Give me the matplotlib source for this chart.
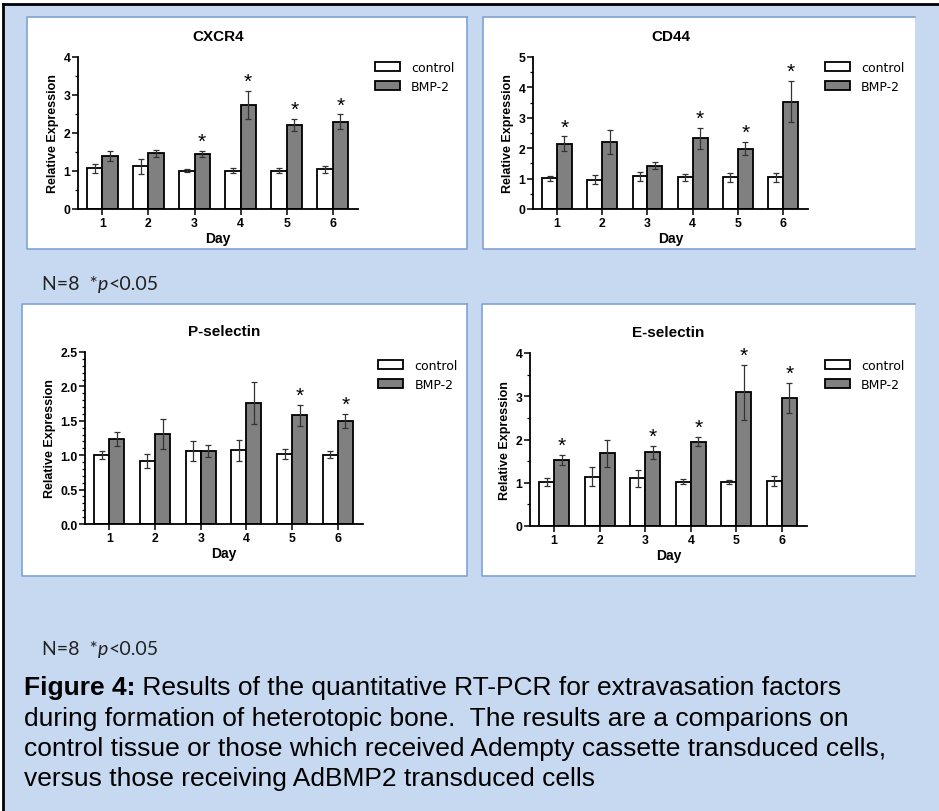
import matplotlib
matplotlib.use("Agg")
import matplotlib.pyplot as plt
import numpy as np
from matplotlib.patches import Rectangle
from matplotlib.lines import Line2D
from matplotlib.ticker import MultipleLocator

# data
days = [1, 2, 3, 4, 5, 6]
series_names = ["control", "BMP-2"]

cxcr4_ctrl = [1.07, 1.12, 1.01, 1.01, 1.01, 1.04]
cxcr4_ctrl_err = [0.11, 0.19, 0.03, 0.06, 0.06, 0.08]
cxcr4_bmp = [1.39, 1.47, 1.44, 2.74, 2.22, 2.30]
cxcr4_bmp_err = [0.13, 0.09, 0.08, 0.37, 0.16, 0.19]
cxcr4_sig = [3, 4, 5, 6]

cd44_ctrl = [1.01, 0.97, 1.07, 1.04, 1.05, 1.05]
cd44_ctrl_err = [0.08, 0.16, 0.16, 0.11, 0.15, 0.15]
cd44_bmp = [2.15, 2.21, 1.43, 2.32, 1.99, 3.53]
cd44_bmp_err = [0.24, 0.40, 0.12, 0.35, 0.21, 0.68]
cd44_sig = [1, 4, 5, 6]

psel_ctrl = [1.00, 0.92, 1.06, 1.07, 1.02, 1.01]
psel_ctrl_err = [0.06, 0.10, 0.14, 0.15, 0.07, 0.05]
psel_bmp = [1.23, 1.31, 1.06, 1.76, 1.58, 1.50]
psel_bmp_err = [0.10, 0.22, 0.09, 0.30, 0.15, 0.10]
psel_sig = [5, 6]

esel_ctrl = [1.02, 1.14, 1.10, 1.02, 1.02, 1.04]
esel_ctrl_err = [0.10, 0.22, 0.20, 0.06, 0.05, 0.12]
esel_bmp = [1.53, 1.68, 1.70, 1.95, 3.09, 2.96]
esel_bmp_err = [0.12, 0.32, 0.15, 0.11, 0.64, 0.35]
esel_sig = [1, 3, 4, 5, 6]

W, H = 939, 812
BG = "#c6d9f0"
EDGE = "#7ea3d3"
BAR_GREY = "#808080"
FONT = "Liberation Sans"


def fx(px):
    return px / W


def fy(py):
    return 1 - py / H


fig = plt.figure(figsize=(W / 100, H / 100), dpi=100)
fig.patch.set_facecolor("white")

# light blue page with black frame on left/top
fig.patches.append(Rectangle((fx(3), 0), 1 - fx(3), fy(5), transform=fig.transFigure,
                             facecolor=BG, edgecolor="none", zorder=-10))
fig.lines.append(Line2D([fx(3), fx(3)], [0, fy(5)], transform=fig.transFigure, color="black", lw=2))
fig.lines.append(Line2D([fx(3), 1], [fy(5), fy(5)], transform=fig.transFigure, color="black", lw=2))


def panel_box(x0, y0, x1, y1, right_edge=True):
    fig.patches.append(Rectangle((fx(x0), fy(y1)), fx(x1) - fx(x0), fy(y0) - fy(y1),
                                 transform=fig.transFigure, facecolor="white",
                                 edgecolor="none", zorder=-5))
    xs = [x1, x0, x0, x1] if not right_edge else [x1, x0, x0, x1, x1]
    ys = [y0, y0, y1, y1] if not right_edge else [y0, y0, y1, y1, y0]
    fig.lines.append(Line2D([fx(v) for v in xs], [fy(v) for v in ys],
                            transform=fig.transFigure, color=EDGE, lw=1.2))


panel_box(27, 18, 467, 250)
panel_box(483, 18, 915, 250, right_edge=False)
panel_box(22, 305, 467, 577)
panel_box(482, 305, 915, 577, right_edge=False)


def bar_panel(rect, title, ctrl, ctrl_err, bmp, bmp_err, sig, ymax, major, minor, fmt, leg_xy):
    l, t, r, b = rect
    ax = fig.add_axes([fx(l), fy(b), fx(r) - fx(l), fy(t) - fy(b)])
    ax.patch.set_alpha(0)
    x = np.array(days)
    w = 0.33
    ax.bar(x - w / 2, ctrl, w, color="white", edgecolor="black", linewidth=1.3,
           label=series_names[0], zorder=2)
    ax.bar(x + w / 2, bmp, w, color=BAR_GREY, edgecolor="black", linewidth=1.3,
           label=series_names[1], zorder=2)
    ax.errorbar(x - w / 2, ctrl, yerr=ctrl_err, fmt="none", ecolor="#333333",
                elinewidth=0.9, capsize=2.2, capthick=0.9, zorder=3)
    ax.errorbar(x + w / 2, bmp, yerr=bmp_err, fmt="none", ecolor="#333333",
                elinewidth=0.9, capsize=2.2, capthick=0.9, zorder=3)
    for d in sig:
        i = days.index(d)
        ax.annotate("*", (d + w / 2, bmp[i] + bmp_err[i]), xytext=(0, 0),
                    textcoords="offset points", ha="center", va="bottom",
                    fontsize=15, family=FONT)
    ax.set_xlim(0.47, 6.55)
    ax.set_ylim(0, ymax)
    ax.yaxis.set_major_locator(MultipleLocator(major))
    ax.yaxis.set_minor_locator(MultipleLocator(minor))
    ax.yaxis.set_major_formatter(fmt)
    ax.set_xticks(days)
    for s in ["top", "right"]:
        ax.spines[s].set_visible(False)
    for s in ["left", "bottom"]:
        ax.spines[s].set_linewidth(1.3)
    ax.tick_params(axis="both", which="major", length=4, width=1.1, pad=1.5)
    ax.tick_params(axis="y", which="minor", length=2.5, width=0.9)
    ax.tick_params(axis="x", which="minor", length=0)
    for lab in ax.get_xticklabels() + ax.get_yticklabels():
        lab.set_fontfamily(FONT)
        lab.set_fontweight("bold")
        lab.set_fontsize(8.8)
    ax.set_title(title, fontsize=11, fontweight="bold", family=FONT, pad=12)
    ax.set_xlabel("Day", fontsize=10, fontweight="bold", family=FONT, labelpad=2)
    ax.set_ylabel("Relative Expression", fontsize=9, fontweight="bold", family=FONT, labelpad=3)
    ax.legend(loc="upper left", bbox_to_anchor=(fx(leg_xy[0]), fy(leg_xy[1])),
              bbox_transform=fig.transFigure, frameon=False,
              prop={"family": "DejaVu Sans", "size": 9},
              handlelength=2.0, handleheight=0.75, handletextpad=0.9,
              labelspacing=0.45, borderpad=0, borderaxespad=0)
    return ax


bar_panel((78, 58, 358, 210), "CXCR4", cxcr4_ctrl, cxcr4_ctrl_err, cxcr4_bmp, cxcr4_bmp_err,
          cxcr4_sig, 4, 1, 0.5, "{x:.0f}", (375, 62))
bar_panel((533, 58, 808, 210), "CD44", cd44_ctrl, cd44_ctrl_err, cd44_bmp, cd44_bmp_err,
          cd44_sig, 5, 1, 0.5, "{x:.0f}", (825, 62))
bar_panel((85, 353, 363, 525), "P-selectin", psel_ctrl, psel_ctrl_err, psel_bmp, psel_bmp_err,
          psel_sig, 2.5, 0.5, 0.1, "{x:.1f}", (378, 360))
bar_panel((530, 354, 807, 527), "E-selectin", esel_ctrl, esel_ctrl_err, esel_bmp, esel_bmp_err,
          esel_sig, 4, 1, 0.5, "{x:.0f}", (825, 360))


def note(px, py, size):
    t1 = fig.text(fx(px), fy(py), "N=8  *", fontsize=size, family="Lato",
                  color="#222222", va="baseline")
    t2 = fig.text(0, 0, "p", fontsize=size, family="Lato", style="italic",
                  color="#222222", va="baseline")
    t3 = fig.text(0, 0, "<0.05", fontsize=size, family="Lato",
                  color="#222222", va="baseline")
    fig.canvas.draw()
    r = fig.canvas.get_renderer()
    e1 = t1.get_window_extent(r)
    t2.set_position((e1.x1 / fig.bbox.width, fy(py)))
    e2 = t2.get_window_extent(r)
    t3.set_position((e2.x1 / fig.bbox.width, fy(py)))


note(42, 290, 14)
note(42, 655, 14)

caption = [
    " Results of the quantitative RT-PCR for extravasation factors",
    "during formation of heterotopic bone.  The results are a comparions on",
    "control tissue or those which received Adempty cassette transduced cells,",
    "versus those receiving AdBMP2 transduced cells",
]
cap_y = [695, 726, 756, 786]
cap_size = 19
fig.canvas.draw()
r = fig.canvas.get_renderer()
tb = fig.text(fx(24), fy(cap_y[0]), "Figure 4:", fontsize=cap_size, family=FONT,
              fontweight="bold", va="baseline")
eb = tb.get_window_extent(r)
fig.text(eb.x1 / fig.bbox.width, fy(cap_y[0]), caption[0], fontsize=cap_size,
         family=FONT, va="baseline")
for line, yy in zip(caption[1:], cap_y[1:]):
    fig.text(fx(24), fy(yy), line, fontsize=cap_size, family=FONT, va="baseline")

fig.savefig("out.png", dpi=100)
